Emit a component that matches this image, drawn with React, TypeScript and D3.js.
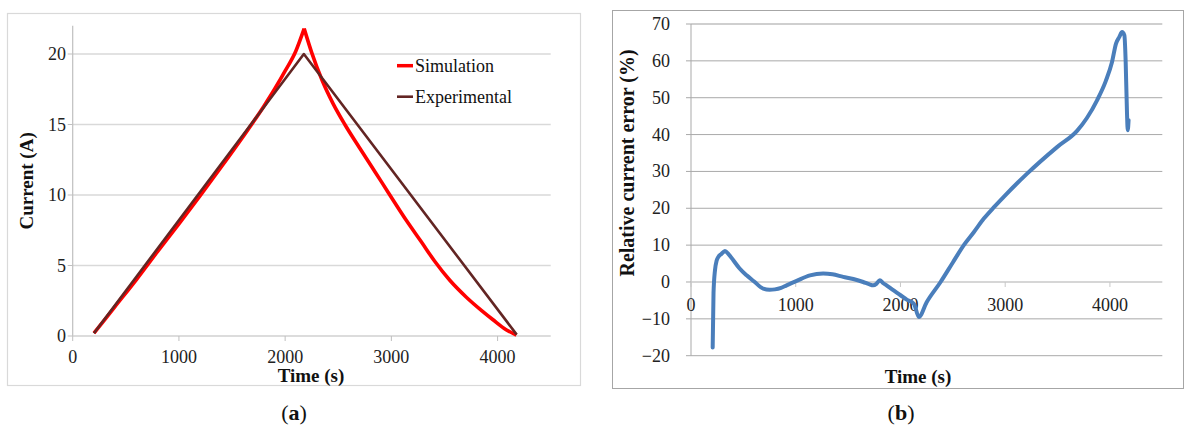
import React from 'react';
import * as d3 from 'd3';

// time ticks shared by both panels
const timeTicks = [0, 1000, 2000, 3000, 4000];
const currentTicks = [0, 5, 10, 15, 20];
const errorTicks = [-20, -10, 0, 10, 20, 30, 40, 50, 60, 70];

// panel (a): current vs time
const expTime = [200, 2176, 4180];
const expCurrent = [0.2, 20.0, 0.1];

const simTime = [200, 400, 600, 800, 1000, 1200, 1400, 1600, 1800, 1900, 2000, 2100, 2179, 2250, 2350, 2450, 2562, 2700, 2850, 2969, 3150, 3280, 3408, 3550, 3706, 3850, 3957, 4080, 4177];
const simCurrent = [0.2, 2.1, 4.0, 6.0, 7.95, 9.95, 12.0, 14.1, 16.3, 17.5, 18.8, 20.2, 21.8, 20.1, 18.1, 16.5, 15.0, 13.35, 11.6, 10.2, 8.1, 6.7, 5.3, 3.95, 2.75, 1.8, 1.15, 0.45, 0.07];

// panel (b): relative error vs time
const errTime = [207, 215, 229, 245, 261, 290, 324, 360, 404, 460, 531, 600, 690, 750, 801, 860, 913, 1009, 1136, 1262, 1350, 1453, 1550, 1644, 1700, 1740, 1770, 1803, 1830, 1867, 1920, 2001, 2060, 2128, 2176, 2250, 2383, 2500, 2605, 2700, 2796, 2900, 3000, 3209, 3495, 3686, 3780, 3877, 3960, 4020, 4058, 4090, 4116, 4138, 4150, 4163, 4170, 4178];
const errValue = [-17.8, -3, 3.2, 5.8, 6.8, 7.6, 8.4, 7.5, 5.9, 3.8, 1.8, 0.2, -1.8, -2.1, -2, -1.6, -0.9, 0.3, 1.8, 2.3, 2.1, 1.4, 0.8, 0, -0.6, -0.9, -0.5, 0.5, -0.2, -0.9, -2, -3.6, -4.8, -5.9, -9.5, -5.5, 0, 5.3, 10, 13.5, 17.2, 20.5, 23.5, 29.4, 36.6, 41, 44.5, 49.3, 54.5, 59.7, 64.7, 66.5, 67.8, 66.9, 60, 45.7, 41.2, 43.9];

const legendNames = ['Simulation', 'Experimental'];
const legendColors = ['#ff0000', '#632523'];

const serif = '"Liberation Serif", "Times New Roman", serif';

const pairs = (xs: number[], ys: number[]) => xs.map((x, i) => [x, ys[i]] as [number, number]);

const PanelA = () => {
  const x = d3.scaleLinear().domain([0, 4500]).range([72.7, 550.7]);
  const y = d3.scaleLinear().domain([0, 22]).range([336, 25.8]);
  const straight = d3.line<[number, number]>().x(d => x(d[0])).y(d => y(d[1]));
  const smooth = d3.line<[number, number]>().x(d => x(d[0])).y(d => y(d[1])).curve(d3.curveMonotoneX);
  const expPath = straight(pairs(expTime, expCurrent));
  // split at the peak so the tip stays sharp
  const sim = pairs(simTime, simCurrent);
  const peak = d3.maxIndex(simCurrent);
  const simPath = (smooth(sim.slice(0, peak + 1)) || '') + (smooth(sim.slice(peak)) || '');
  const gridColor = '#d9d9d9';

  return (
    <g fontFamily={serif}>
      <rect x={7.5} y={13.5} width={573} height={372} fill="#fff" stroke="#d9d9d9" strokeWidth={1.2} />
      {currentTicks.filter(t => t > 0).map(t => (
        <line key={t} x1={x(0)} x2={x(4500)} y1={y(t)} y2={y(t)} stroke={gridColor} strokeWidth={1.3} />
      ))}
      {/* axes */}
      <line x1={x(0)} x2={x(0)} y1={y(22)} y2={y(0)} stroke="#bfbfbf" strokeWidth={1.2} />
      <line x1={x(0)} x2={x(4500)} y1={y(0)} y2={y(0)} stroke="#d0d0d0" strokeWidth={1.3} />
      {currentTicks.map(t => (
        <g key={t}>
          <line x1={x(0) - 5} x2={x(0)} y1={y(t)} y2={y(t)} stroke="#bfbfbf" />
          <text x={66} y={y(t) + 6} textAnchor="end" fontSize={18} fill="#222">{t}</text>
        </g>
      ))}
      {timeTicks.map(t => (
        <g key={t}>
          <line x1={x(t)} x2={x(t)} y1={y(0)} y2={y(0) + 5} stroke="#bfbfbf" />
          <text x={x(t)} y={363} textAnchor="middle" fontSize={18} fill="#222">{t}</text>
        </g>
      ))}
      <text x={311} y={382} textAnchor="middle" fontSize={19} fontWeight="bold" fill="#111">Time (s)</text>
      <text transform={`translate(33,${y(11)}) rotate(-90)`} textAnchor="middle" fontSize={19} fontWeight="bold" fill="#111">Current (A)</text>

      <path d={simPath} fill="none" stroke={legendColors[0]} strokeWidth={3.6} strokeLinejoin="round" />
      <path d={expPath || ''} fill="none" stroke={legendColors[1]} strokeWidth={2.6} strokeLinejoin="round" />

      {legendNames.map((name, i) => (
        <g key={name} transform={`translate(397,${65.7 + i * 31})`}>
          <line x1={0} x2={16} y1={0} y2={0} stroke={legendColors[i]} strokeWidth={i === 0 ? 3.5 : 2.6} />
          <text x={18} y={6} fontSize={18} fill="#111">{name}</text>
        </g>
      ))}

      <text x={294} y={420} textAnchor="middle" fontSize={22} fill="#111">
        (<tspan fontWeight="bold">a</tspan>)
      </text>
    </g>
  );
};

const PanelB = () => {
  const x = d3.scaleLinear().domain([0, 4500]).range([691, 1162.3]);
  const y = d3.scaleLinear().domain([-20, 70]).range([355.7, 24]);
  const line = d3.line<[number, number]>()
    .x(d => x(d[0]))
    .y(d => y(d[1]))
    .curve(d3.curveMonotoneX);
  const fmt = (v: number) => (v < 0 ? `\u2212${Math.abs(v)}` : `${v}`);

  return (
    <g fontFamily={serif}>
      <rect x={612.5} y={10.5} width={571} height={378} fill="#fff" stroke="#a6a6a6" strokeWidth={1} />
      {errorTicks.filter(t => t !== 0).map(t => (
        <line key={t} x1={x(0)} x2={x(4500)} y1={y(t)} y2={y(t)} stroke={t === 70 ? '#cfcfcf' : '#a9a9a9'} strokeWidth={t === 70 ? 1.8 : 1} />
      ))}
      <line x1={x(0)} x2={x(0)} y1={y(70)} y2={y(-20)} stroke="#a9a9a9" />
      <line x1={x(0)} x2={x(4500)} y1={y(0)} y2={y(0)} stroke="#c8c8c8" strokeWidth={1.3} />
      {errorTicks.map(t => (
        <g key={t}>
          <line x1={x(0) - 5} x2={x(0)} y1={y(t)} y2={y(t)} stroke="#a9a9a9" />
          <text x={670} y={y(t) + 6} textAnchor="end" fontSize={18} fill="#222">{fmt(t)}</text>
        </g>
      ))}
      {timeTicks.map(t => (
        <g key={t}>
          <line x1={x(t)} x2={x(t)} y1={y(0)} y2={y(0) + 5} stroke="#c8c8c8" />
          <text x={x(t)} y={311} textAnchor="middle" fontSize={18} fill="#222">{t}</text>
        </g>
      ))}
      <text x={918} y={383} textAnchor="middle" fontSize={19} fontWeight="bold" fill="#111">Time (s)</text>
      <text transform="translate(634,163) rotate(-90)" textAnchor="middle" fontSize={20} fontWeight="bold" fill="#111">Relative current error (%)</text>

      <path d={line(pairs(errTime, errValue)) || ''} fill="none" stroke="#4a7ebb" strokeWidth={4} strokeLinejoin="round" strokeLinecap="round" />

      <text x={901} y={420} textAnchor="middle" fontSize={22} fill="#111">
        (<tspan fontWeight="bold">b</tspan>)
      </text>
    </g>
  );
};

export default function App() {
  return (
    <svg width={1184} height={429} style={{ position: 'absolute', left: 0, top: 0, background: '#fff' }}>
      <rect width={1184} height={429} fill="#fff" />
      <PanelA />
      <PanelB />
    </svg>
  );
}
